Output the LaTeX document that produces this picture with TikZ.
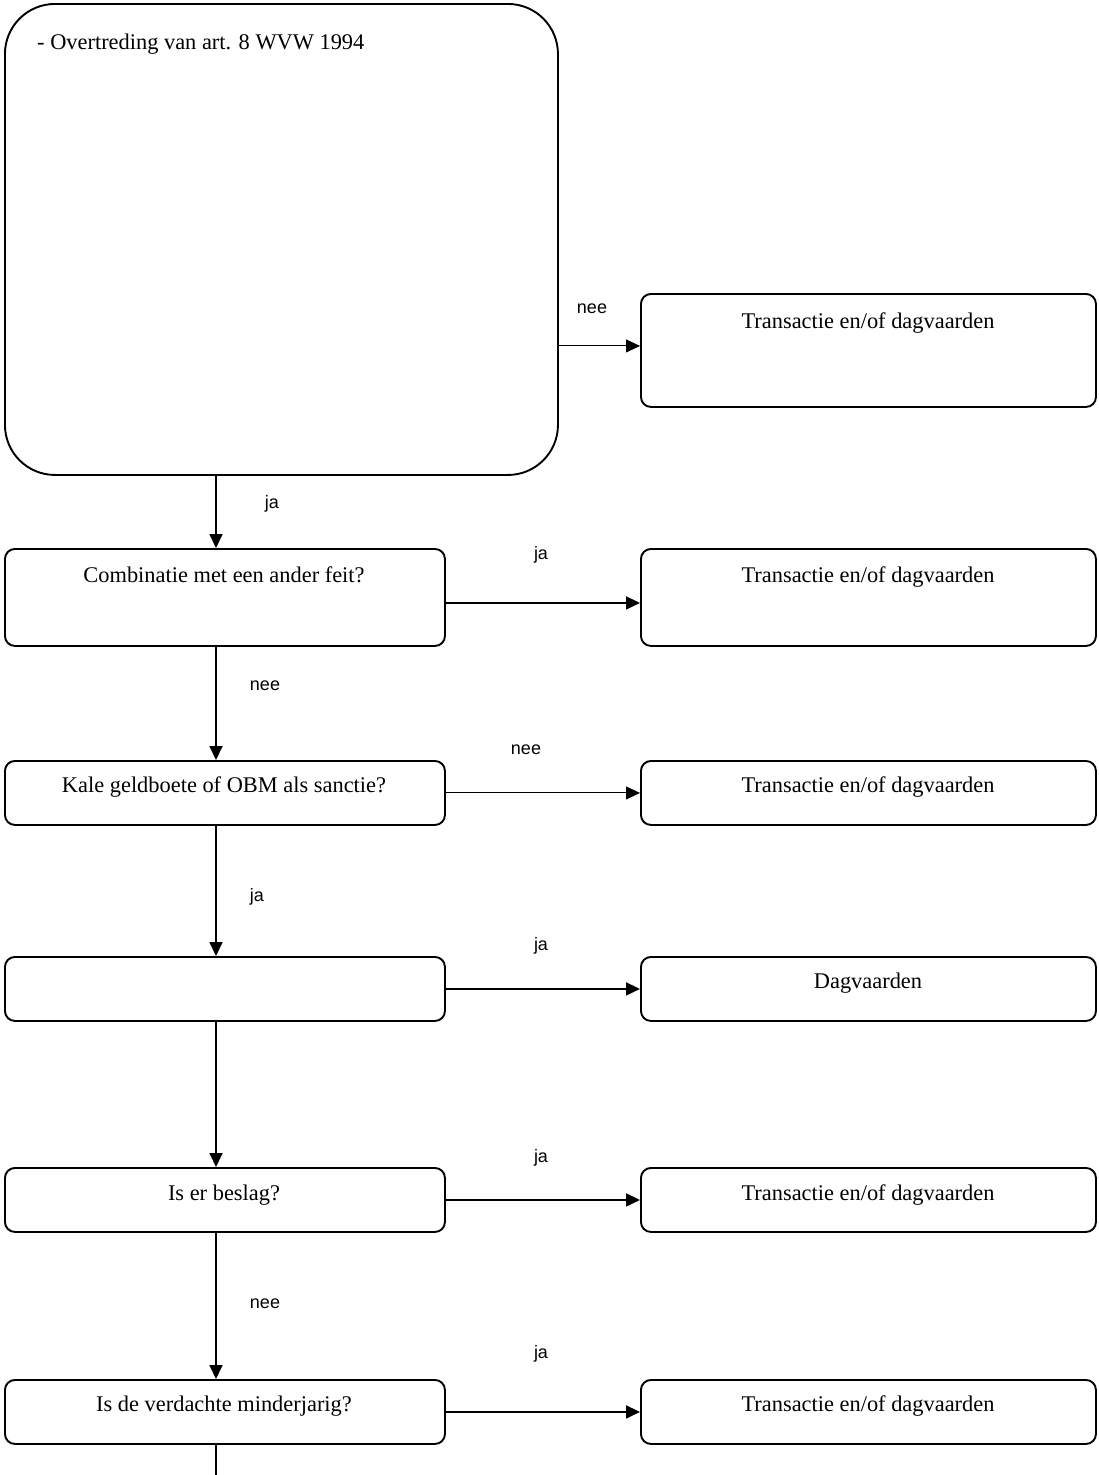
\documentclass[tikz,border=0pt]{standalone}
\usepackage{fontspec}
\setmainfont{Liberation Serif}
\setsansfont{Liberation Sans}
\usetikzlibrary{arrows.meta}
\tikzset{
  box/.style={draw, line width=1.9pt, rounded corners=10pt, rectangle, inner sep=0pt, anchor=north west},
  txt/.style={font=\fontsize{22.4}{26}\selectfont, anchor=base, inner sep=0pt},
  lbl/.style={font=\sffamily\fontsize{18}{20}\selectfont, inner sep=0pt},
  thickarr/.style={line width=1.8pt, -{Triangle[length=14pt,width=13pt]}},
  thinarr/.style={line width=1pt, -{Triangle[length=14pt,width=13pt]}},
}
\begin{document}
\begin{tikzpicture}[x=1pt,y=-1pt]
\useasboundingbox (0,0) rectangle (1099,1475);
% main column boxes
\node[box, rounded corners=50pt, minimum width=553pt, minimum height=471pt] (b1) at (4,3) {};
\node[box, minimum width=440pt, minimum height=97pt] (b2) at (4,548) {};
\node[box, minimum width=440pt, minimum height=64pt] (b3) at (4,760) {};
\node[box, minimum width=440pt, minimum height=64pt] (b4) at (4,956) {};
\node[box, minimum width=440pt, minimum height=64pt] (b5) at (4,1167) {};
\node[box, minimum width=440pt, minimum height=64pt] (b6) at (4,1379) {};
% right column boxes
\node[box, minimum width=455pt, minimum height=113pt] (r1) at (640,293) {};
\node[box, minimum width=455pt, minimum height=97pt] (r2) at (640,548) {};
\node[box, minimum width=455pt, minimum height=64pt] (r3) at (640,760) {};
\node[box, minimum width=455pt, minimum height=64pt] (r4) at (640,956) {};
\node[box, minimum width=455pt, minimum height=64pt] (r5) at (640,1167) {};
\node[box, minimum width=455pt, minimum height=64pt] (r6) at (640,1379) {};
% texts
\node[txt, anchor=base west] (t1) at (37,49) {- Overtreding van art. 8 WVW 1994};
\node[txt] (t2) at (224,582) {Combinatie met een ander feit?};
\node[txt] (t3) at (224,792) {Kale geldboete of OBM als sanctie?};
\node[txt] (t5) at (224,1200) {Is er beslag?};
\node[txt] (t6) at (224,1411) {Is de verdachte minderjarig?};
\node[txt] (u1) at (868,328) {Transactie en/of dagvaarden};
\node[txt] (u2) at (868,582) {Transactie en/of dagvaarden};
\node[txt] (u3) at (868,792) {Transactie en/of dagvaarden};
\node[txt] (u4) at (868,988) {Dagvaarden};
\node[txt] (u5) at (868,1200) {Transactie en/of dagvaarden};
\node[txt] (u6) at (868,1411) {Transactie en/of dagvaarden};
% connectors
\coordinate (vx) at (216,0);
\coordinate (bottom) at (216,1475);
\draw[thickarr] (b1.south -| vx) -- (b2.north -| vx);
\draw[thickarr] (b2.south -| vx) -- (b3.north -| vx);
\draw[thickarr] (b3.south -| vx) -- (b4.north -| vx);
\draw[thickarr] (b4.south -| vx) -- (b5.north -| vx);
\draw[thickarr] (b5.south -| vx) -- (b6.north -| vx);
\draw[line width=1.8pt] (b6.south -| vx) -- (bottom);
\draw[thinarr] ([yshift=4.5pt]b1.east |- r1.west) -- ([yshift=4.5pt]r1.west);
\draw[thickarr] ([yshift=-5.5pt]b2.east |- r2.west) -- ([yshift=-5.5pt]r2.west);
\draw[thinarr] (b3.east |- r3.west) -- (r3.west);
\draw[thickarr] (b4.east |- r4.west) -- (r4.west);
\draw[thickarr] (b5.east |- r5.west) -- (r5.west);
\draw[thickarr] (b6.east |- r6.west) -- (r6.west);
% labels
\node[lbl] (l1) at (592,309) {nee};
\node[lbl] (l2) at (272,504) {ja};
\node[lbl] (l3) at (541,555) {ja};
\node[lbl] (l4) at (265,686) {nee};
\node[lbl] (l5) at (526,750) {nee};
\node[lbl] (l6) at (257,897) {ja};
\node[lbl] (l7) at (541,946) {ja};
\node[lbl] (l8) at (541,1158) {ja};
\node[lbl] (l9) at (265,1304) {nee};
\node[lbl] (l10) at (541,1354) {ja};
\end{tikzpicture}
\end{document}
